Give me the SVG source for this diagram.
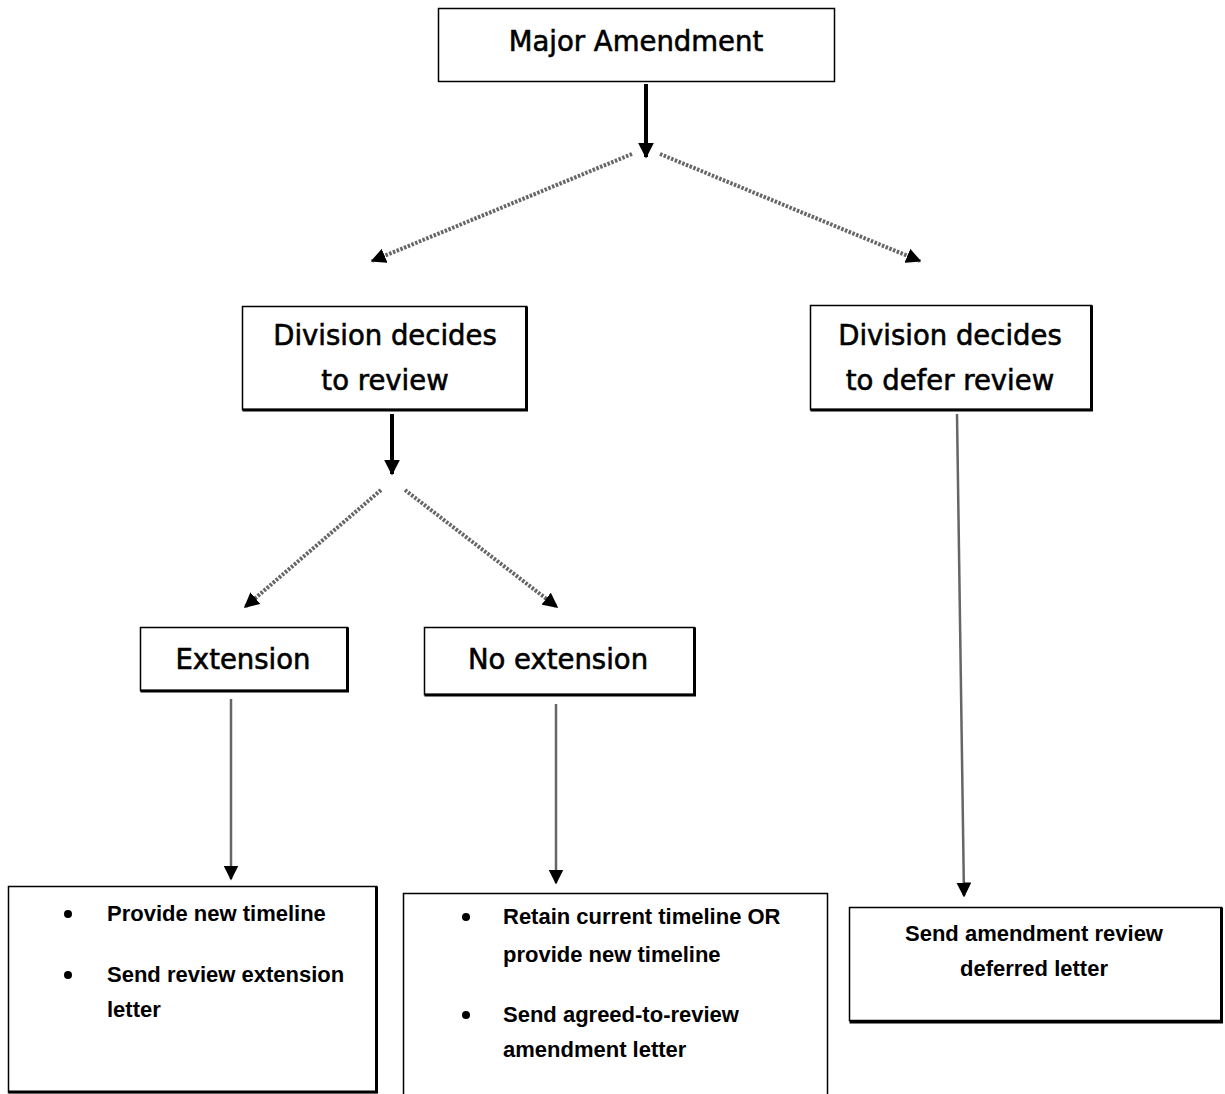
<svg xmlns="http://www.w3.org/2000/svg" width="1225" height="1094" viewBox="0 0 1225 1094">
<defs>
<style>
.box{fill:#fff;stroke:#000;stroke-width:1.5}
.sh{fill:none;stroke:#000;stroke-width:3}
.t{font-family:"DejaVu Sans",sans-serif;font-size:27.5px;fill:#000;stroke:#000;stroke-width:0.6;text-anchor:middle}
.b{font-family:"Liberation Sans",sans-serif;font-weight:bold;font-size:22px;fill:#000}
.bc{font-family:"Liberation Sans",sans-serif;font-weight:bold;font-size:22px;fill:#000;text-anchor:middle}
.thick{stroke:#000;stroke-width:4;fill:none}
.diag{stroke:#666;stroke-width:4;fill:none;stroke-dasharray:2.5 1.5}
.vert{stroke:#666;stroke-width:2.5;fill:none}
</style>
<marker id="ah" viewBox="0 0 10 10" refX="9" refY="5" markerWidth="4" markerHeight="4" orient="auto" markerUnits="strokeWidth">
<path d="M0,0 L10,5 L0,10 z" fill="#000"/>
</marker>
<marker id="ah2" viewBox="0 0 10 10" refX="9" refY="5" markerWidth="3.8" markerHeight="3.8" orient="auto" markerUnits="strokeWidth">
<path d="M0,0 L10,5 L0,10 z" fill="#000"/>
</marker>
<marker id="ah3" viewBox="0 0 10 10" refX="9" refY="5" markerWidth="6" markerHeight="6" orient="auto" markerUnits="strokeWidth">
<path d="M0,0 L10,5 L0,10 z" fill="#000"/>
</marker>
</defs>
<rect width="1225" height="1094" fill="#fff"/>

<g id="connectors">
<line class="thick" x1="646" y1="84" x2="646" y2="157" marker-end="url(#ah)"/>
<line class="diag" x1="632" y1="154" x2="372" y2="261" marker-end="url(#ah2)"/>
<line class="diag" x1="660" y1="154" x2="920" y2="261" marker-end="url(#ah2)"/>
<line class="thick" x1="392" y1="414" x2="392" y2="474" marker-end="url(#ah)"/>
<line class="diag" x1="381" y1="490" x2="245" y2="607" marker-end="url(#ah2)"/>
<line class="diag" x1="405" y1="490" x2="557" y2="607" marker-end="url(#ah2)"/>
<line class="vert" x1="231" y1="699" x2="231" y2="879" marker-end="url(#ah3)"/>
<line class="vert" x1="556" y1="704" x2="556" y2="883" marker-end="url(#ah3)"/>
<line class="vert" x1="957" y1="414" x2="964" y2="896" marker-end="url(#ah3)"/>
</g>

<g id="major-amendment">
<rect class="box" x="438.5" y="8.5" width="396" height="73"/>
<text class="t" x="636" y="51" font-size="29.5">Major Amendment</text>
</g>

<g id="division-review">
<rect class="box" x="242.5" y="306.5" width="284" height="103"/>
<polyline class="sh" points="526.5,306.5 526.5,410 242.5,410"/>
<text class="t" x="385" y="345">Division decides</text>
<text class="t" x="385" y="390">to review</text>
</g>

<g id="division-defer">
<rect class="box" x="810.5" y="305.5" width="281" height="104"/>
<polyline class="sh" points="1091.5,305.5 1091.5,410 810.5,410"/>
<text class="t" x="950" y="345">Division decides</text>
<text class="t" x="950" y="390">to defer review</text>
</g>

<g id="extension">
<rect class="box" x="140.5" y="627.5" width="207" height="63"/>
<polyline class="sh" points="347.5,627.5 347.5,691 140.5,691"/>
<text class="t" x="243" y="669">Extension</text>
</g>

<g id="no-extension">
<rect class="box" x="424.5" y="627.5" width="270" height="67"/>
<polyline class="sh" points="694.5,627.5 694.5,695 424.5,695"/>
<text class="t" x="558" y="669">No extension</text>
</g>

<g id="extension-actions">
<rect class="box" x="8.5" y="886.5" width="368" height="206"/>
<polyline class="sh" points="376.5,886.5 376.5,1092 8.5,1092"/>
<circle cx="68" cy="914" r="4" fill="#000"/>
<circle cx="68" cy="975" r="4" fill="#000"/>
<text class="b" x="107" y="921">Provide new timeline</text>
<text class="b" x="107" y="982">Send review extension</text>
<text class="b" x="107" y="1017">letter</text>
</g>

<g id="no-extension-actions">
<rect class="box" x="403.5" y="893.5" width="424" height="205"/>
<circle cx="466" cy="917" r="4" fill="#000"/>
<circle cx="466" cy="1015" r="4" fill="#000"/>
<text class="b" x="503" y="924">Retain current timeline OR</text>
<text class="b" x="503" y="962">provide new timeline</text>
<text class="b" x="503" y="1022">Send agreed-to-review</text>
<text class="b" x="503" y="1057">amendment letter</text>
</g>

<g id="defer-actions">
<rect class="box" x="849.5" y="907.5" width="372" height="113"/>
<polyline class="sh" points="1221.5,907.5 1221.5,1022 849.5,1022"/>
<text class="bc" x="1034" y="941">Send amendment review</text>
<text class="bc" x="1034" y="976">deferred letter</text>
</g>
</svg>
